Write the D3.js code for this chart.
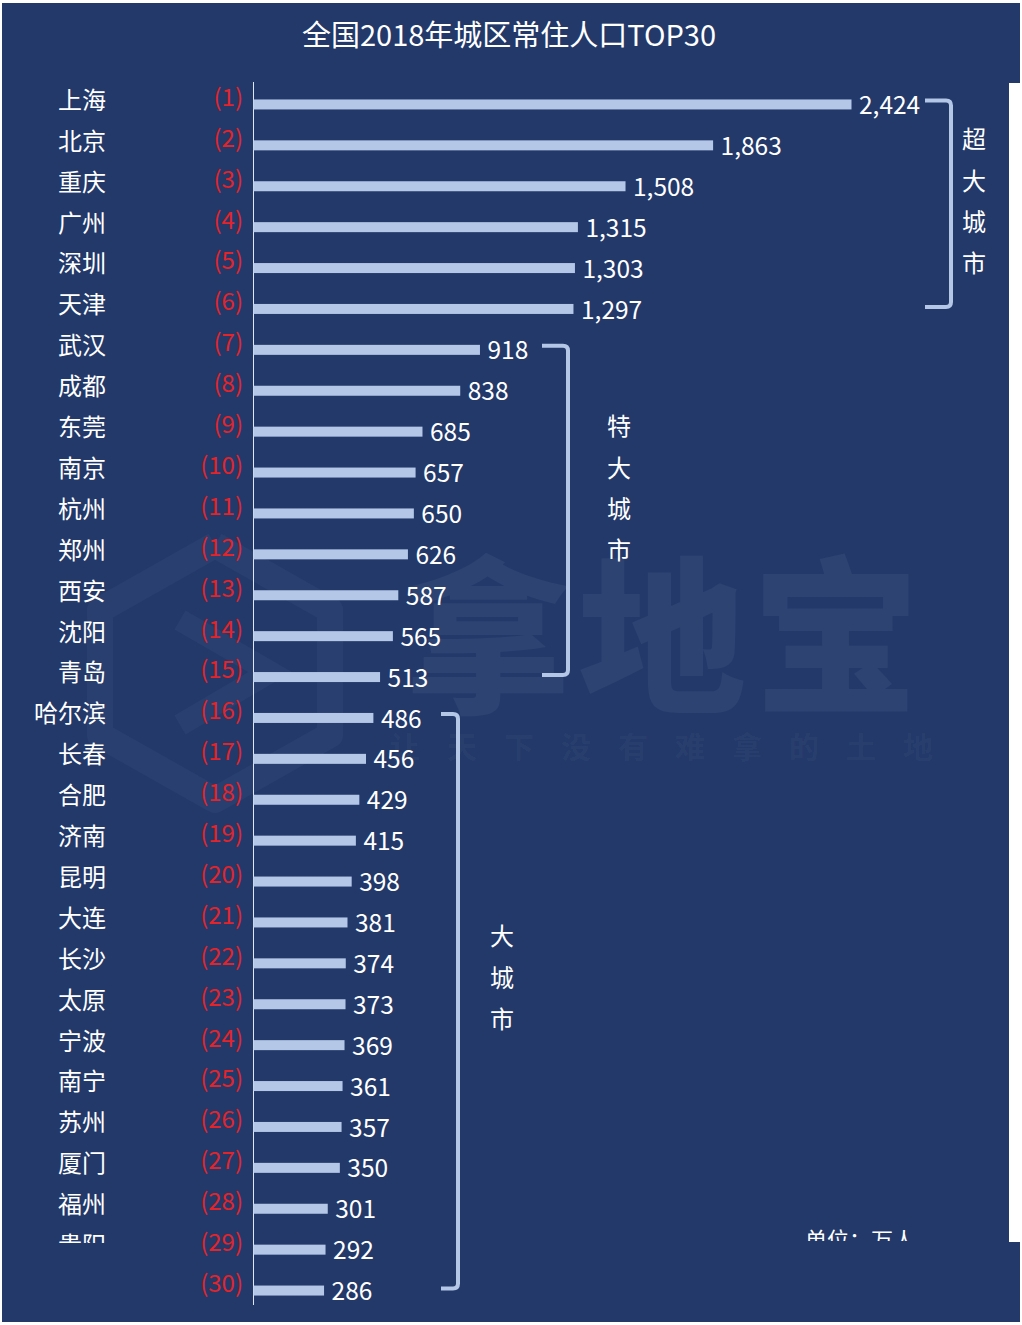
<!DOCTYPE html>
<html><head><meta charset="utf-8">
<script src="https://cdn.jsdelivr.net/npm/d3@7"></script>
<style>
html,body{margin:0;padding:0;background:#fff;}
svg{display:block;}
text{font-family:"Noto Sans CJK SC","Noto Sans",sans-serif;}
</style></head>
<body>
<script>
// ---- data ----
const cities = ["上海","北京","重庆","广州","深圳","天津","武汉","成都","东莞","南京","杭州","郑州","西安","沈阳","青岛","哈尔滨","长春","合肥","济南","昆明","大连","长沙","太原","宁波","南宁","苏州","厦门","福州","贵阳",""];
const ranks = d3.range(1, 31);
const values = [2424,1863,1508,1315,1303,1297,918,838,685,657,650,626,587,565,513,486,456,429,415,398,381,374,373,369,361,357,350,301,292,286];
const groupNames = ["超大城市","特大城市","大城市"];
const groupStart = [1,7,16];
const groupEnd = [6,15,30];
const title = "全国2018年城区常住人口TOP30";
const unitLabel = "单位：万人";

// ---- layout ----
const W = 1022, H = 1325;
const bg = "#22396a", barColor = "#b4c7e7", red = "#e3242b";
const svg = d3.select("body").append("svg").attr("width", W).attr("height", H);

svg.append("rect").attr("x",2).attr("y",3).attr("width",1018).attr("height",1319).attr("fill",bg);

// watermark (faint)
const wm = svg.append("g").attr("pointer-events","none");
const hex = d3.line()([[215,545],[330,610],[330,735],[215,800],[100,735],[100,610],[215,545]]);
wm.append("path").attr("d",hex).attr("fill","none").attr("stroke","rgba(255,255,255,0.035)").attr("stroke-width",26).attr("stroke-linejoin","round");
wm.append("path").attr("d",d3.line()([[180,620],[270,672],[180,725]])).attr("fill","none").attr("stroke","rgba(255,255,255,0.035)").attr("stroke-width",22);
wm.append("text").attr("x",665).attr("y",700).attr("text-anchor","middle").attr("font-size",168).attr("font-weight",900)
  .attr("letter-spacing",6).attr("fill","rgba(255,255,255,0.05)").text("拿地宝");
wm.append("text").attr("x",675).attr("y",758).attr("text-anchor","middle").attr("font-size",30).attr("font-weight",700)
  .attr("letter-spacing",27).attr("fill","rgba(255,255,255,0.045)").text("让天下没有难拿的土地");

const x = d3.scaleLinear().domain([0, 2424]).range([253, 851]);
const y = d3.scaleBand().domain(ranks).range([84, 1311]);
const cy = r => y(r) + y.bandwidth()/2;

// title
svg.append("text").attr("x",509).attr("y",46).attr("text-anchor","middle").attr("font-size",29).attr("fill","#fff").text(title);

// axis line
svg.append("line").attr("x1",253.5).attr("x2",253.5).attr("y1",82).attr("y2",1305).attr("stroke","#dfe6f3").attr("stroke-width",1);

// clip for bottom labels
const defs = svg.append("defs");
defs.append("clipPath").attr("id","cityClip").append("rect").attr("x",0).attr("y",0).attr("width",200).attr("height",1243);
defs.append("clipPath").attr("id","unitClip").append("rect").attr("x",700).attr("y",0).attr("width",300).attr("height",1241);

const rows = ranks.map((r,i)=>({rank:r, city:cities[i], value:values[i]}));

// bars
svg.append("g").selectAll("rect").data(rows).join("rect")
  .attr("x", x(0)+0.5).attr("y", d=>cy(d.rank)-5).attr("height",10)
  .attr("width", d=>x(d.value)-x(0)).attr("fill", barColor);

// city names
svg.append("g").attr("clip-path","url(#cityClip)").selectAll("text").data(rows).join("text")
  .attr("x",106).attr("y",d=>cy(d.rank)-4).attr("dy","0.35em").attr("text-anchor","end")
  .attr("font-size",24).attr("fill","#fff").text(d=>d.city);

// rank labels
svg.append("g").selectAll("text").data(rows).join("text")
  .attr("x",243).attr("y",d=>cy(d.rank)-7).attr("dy","0.35em").attr("text-anchor","end")
  .attr("font-size",24).attr("fill",red).text(d=>"("+d.rank+")");

// value labels
const fmt = d3.format(",");
svg.append("g").selectAll("text").data(rows).join("text")
  .attr("x",d=>x(d.value)+8).attr("y",d=>cy(d.rank)+1).attr("dy","0.35em")
  .attr("font-size",24.5).attr("fill","#fff").text(d=>fmt(d.value));

// brackets
const bracketX = [951, 568, 458];
const bracketL = [925, 542, 441];
const labelX = [974, 619, 502];
const labelTop = [140, 427, 937];
groupNames.forEach((g,i)=>{
  const t = cy(groupStart[i]) - 4, b = cy(groupEnd[i]) - 2, xr = bracketX[i], xl = bracketL[i], r = 5;
  svg.append("path")
    .attr("d",`M${xl},${t} L${xr-r},${t} Q${xr},${t} ${xr},${t+r} L${xr},${b-r} Q${xr},${b} ${xr-r},${b} L${xl},${b}`)
    .attr("fill","none").attr("stroke",barColor).attr("stroke-width",4);
  const chars = Array.from(g);
  svg.append("g").selectAll("text").data(chars).join("text")
    .attr("x",labelX[i]).attr("y",(c,j)=>labelTop[i]+j*41.3).attr("dy","0.35em").attr("text-anchor","middle")
    .attr("font-size",24).attr("fill","#fff").text(c=>c);
});

// unit label (clipped as in the reference)
svg.append("text").attr("clip-path","url(#unitClip)").attr("x",860).attr("y",1240).attr("dy","0.35em").attr("text-anchor","middle")
  .attr("font-size",22).attr("fill","#fff").text(unitLabel);

// right white strip
svg.append("rect").attr("x",1009).attr("y",83).attr("width",13).attr("height",1159).attr("fill","#fff");
</script>
</body></html>
